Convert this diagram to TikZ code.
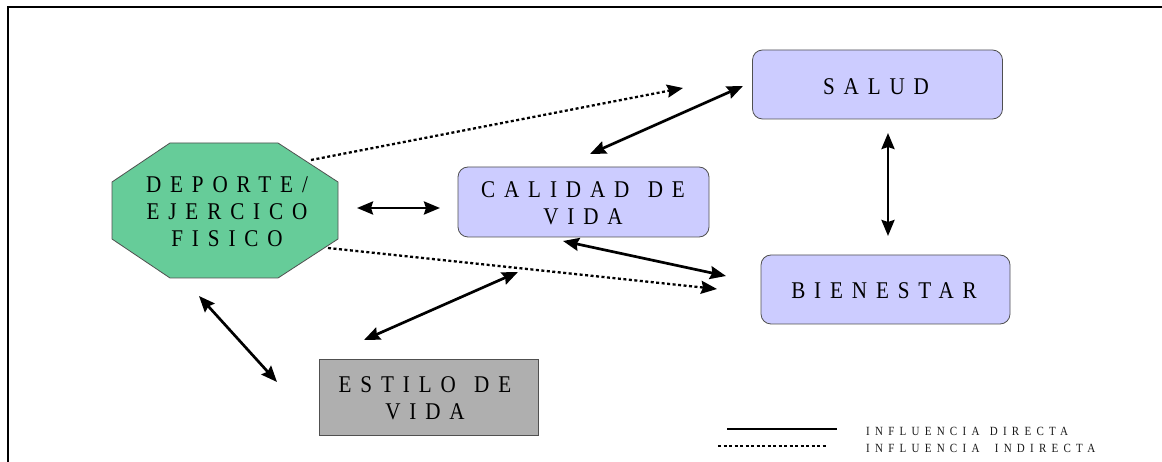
\documentclass[tikz,border=0pt]{standalone}
\usepackage{fontspec}
\setmainfont{Liberation Serif}
\newfontfamily\boxfont[FakeStretch=0.88,LetterSpace=37,WordSpace=1.3]{Liberation Serif}
\newfontfamily\legfont[FakeStretch=0.88,LetterSpace=42,WordSpace=1.3]{Liberation Serif}
\usetikzlibrary{arrows.meta}
\definecolor{lav}{HTML}{CCCCFF}
\definecolor{grn}{HTML}{66CC99}
\definecolor{gry}{HTML}{AFAFAF}
\definecolor{bord}{HTML}{505050}
\tikzset{
  boxtxt/.style={font=\boxfont\fontsize{24}{27}\selectfont, align=center, text=black, inner sep=0pt},
  rbox/.style={draw=bord, line width=0.8pt, fill=lav, rounded corners=10pt, inner sep=0pt},
  gbox/.style={draw=bord, line width=0.8pt, fill=gry, inner sep=0pt},
  direct/.style={line width=2.7pt, {Stealth[length=16pt,width=13pt,inset=2pt]}-{Stealth[length=16pt,width=13pt,inset=2pt]}},
  indirect/.style={line width=2.3pt, dash pattern=on 3pt off 2.5pt, -{Stealth[length=16pt,width=13pt,inset=2pt]}},
  legtxt/.style={font=\legfont\fontsize{12.5}{14}\selectfont, text=black!90, anchor=west, inner sep=0pt}
}
\begin{document}
\begin{tikzpicture}[x=1pt,y=-1pt]
\useasboundingbox (0,0) rectangle (1162,462);
\fill[white] (0,0) rectangle (1162,462);
% frame
\draw[line width=2.2pt] (8,462) -- (8,7) -- (1162,7);
% octagon
\draw[draw=bord, line width=0.8pt, fill=grn] (170,143) -- (278,143) -- (338,182) -- (338,239) -- (278,278) -- (170,278) -- (112,239) -- (112,182) -- cycle;
\node[boxtxt] (dep) at (227,211.5) {DEPORTE/\\EJERCICO\\FISICO};
% boxes
\node[rbox, minimum width=250pt, minimum height=69pt] (salud) at (877.5,84.5) {};
\node[boxtxt] (saludt) at (876,87) {SALUD};
\node[rbox, minimum width=249pt, minimum height=69pt] (bien) at (885.5,289.5) {};
\node[boxtxt] (bient) at (884,291) {BIENESTAR};
\node[rbox, minimum width=251pt, minimum height=70pt] (cal) at (583.5,202) {};
\node[boxtxt] (calt) at (583,203.5) {CALIDAD DE\\VIDA};
\node[gbox, minimum width=219pt, minimum height=76pt] (est) at (428.5,397) {};
\node[boxtxt] (estt) at (425,398.5) {ESTILO DE\\VIDA};
% connector end points
\coordinate (i1a) at (311,160); \coordinate (i1b) at (683,88);
\coordinate (i2a) at (328,248); \coordinate (i2b) at (717,289);
\coordinate (d1a) at (357,208); \coordinate (d1b) at (440,208);
\coordinate (d2a) at (590,154); \coordinate (d2b) at (743,86);
\coordinate (d3a) at (563,241); \coordinate (d3b) at (726,276);
\coordinate (d4a) at (364,340); \coordinate (d4b) at (518,272);
\coordinate (d5a) at (199,296); \coordinate (d5b) at (277,382);
\coordinate (d6a) at (888,133); \coordinate (d6b) at (888,236);
\draw[indirect] (i1a) -- (i1b);
\draw[indirect] (i2a) -- (i2b);
\draw[direct] (d1a) -- (d1b);
\draw[direct] (d2a) -- (d2b);
\draw[direct] (d3a) -- (d3b);
\draw[direct] (d4a) -- (d4b);
\draw[direct] (d5a) -- (d5b);
\draw[direct] (d6a) -- (d6b);
% legend
\coordinate (l1a) at (727,429); \coordinate (l1b) at (837,429);
\coordinate (l2a) at (718,446); \coordinate (l2b) at (826,446);
\draw[line width=2.2pt] (l1a) -- (l1b);
\draw[line width=2.2pt, dash pattern=on 3pt off 2.5pt] (l2a) -- (l2b);
\node[legtxt] (leg1) at (866,431) {INFLUENCIA DIRECTA};
\node[legtxt] (leg2) at (866,448) {INFLUENCIA\hspace{5pt} INDIRECTA};
\end{tikzpicture}
\end{document}
